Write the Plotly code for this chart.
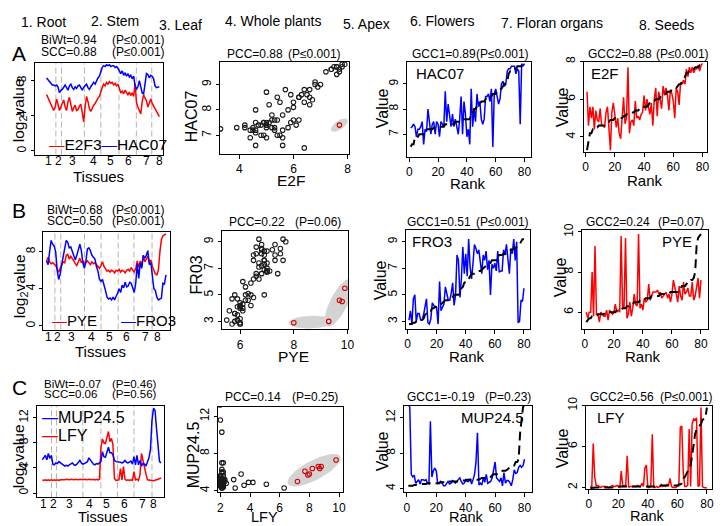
import numpy as np
import plotly.graph_objects as go

W, H = 722, 526
OFF = 8  # page body margin of the html page (content is drawn 8 px in)
FONT = "Liberation Sans, Arial, sans-serif"
BLUE = "#0000FF"
RED = "#FF0000"

# ---------------- data (80 samples, tissue order) ----------------
E2F3 = [6.4, 6.0, 5.6, 5.2, 4.9, 4.6, 5.0, 5.9, 5.3, 4.6,
        5.0, 5.4, 5.8, 5.0, 4.6, 5.6, 6.1, 5.3, 4.5, 4.9,
        5.2, 4.6, 4.7, 5.1, 5.3, 4.4, 3.3, 5.0, 6.2, 5.6,
        4.8, 4.5, 4.9, 5.2, 5.4, 5.8, 6.0, 6.2, 6.8, 7.2,
        7.6, 7.4, 7.8, 7.6, 7.9, 7.7, 7.8, 7.5, 7.7, 7.4,
        7.6, 7.0, 6.6, 6.8, 6.5, 6.9, 6.6, 6.4, 6.7, 6.3,
        6.6, 6.2, 7.7, 5.5, 5.0, 4.6, 4.2, 5.6, 6.4, 6.0,
        5.7, 5.0, 5.5, 5.9, 5.4, 5.1, 4.8, 4.4, 4.2, 3.9]
HAC07 = [8.3, 8.1, 7.8, 7.6, 7.5, 7.5, 7.4, 7.5, 7.3, 6.6,
         6.9, 7.0, 7.3, 7.5, 7.2, 6.9, 7.4, 7.6, 7.2, 7.0,
         7.3, 7.1, 7.4, 7.5, 7.2, 6.9, 7.25, 7.4, 7.6, 7.2,
         7.0, 7.3, 7.5, 7.8, 7.6, 8.0, 8.3, 8.5, 9.0, 9.5,
         9.7, 9.6, 9.8, 9.7, 9.8, 9.6, 9.7, 9.7, 9.5, 9.6,
         9.4, 9.0, 8.8, 9.1, 8.6, 8.9, 8.5, 8.8, 8.4, 8.6,
         8.2, 8.5, 7.4, 7.0, 7.3, 8.0, 7.4, 6.6, 6.5, 7.6,
         8.8, 8.7, 8.3, 8.6, 8.5, 8.2, 7.4, 7.2, 7.3, 7.3]
PYE = [7.0, 7.4, 6.9, 6.7, 6.8, 6.6, 6.5, 6.1, 5.8, 6.2,
       6.6, 6.9, 6.8, 7.6, 7.7, 7.2, 7.5, 7.3, 7.0, 6.7,
       6.5, 6.9, 7.3, 6.8, 7.0, 6.7, 6.9, 7.0, 6.8, 6.6,
       6.9, 6.7, 6.8, 6.6, 6.4, 6.2, 6.5, 6.9, 6.4, 6.1,
       5.9, 6.0, 5.8, 6.0, 5.9, 5.7, 6.0, 5.9, 6.1, 5.8,
       6.0, 5.9, 5.7, 6.0, 6.1, 5.9, 6.3, 6.0, 5.8, 6.2,
       7.0, 6.3, 7.0, 6.5, 7.6, 6.9, 7.3, 7.5, 6.8, 7.1,
       6.4, 6.0, 5.6, 5.5, 6.0, 8.0, 9.3, 9.7, 9.8, 9.9]
FRO3 = [7.0, 6.6, 8.0, 9.2, 8.8, 8.6, 8.0, 6.0, 5.0, 5.6,
        6.6, 7.6, 8.5, 9.2, 9.0, 8.4, 8.5, 8.0, 7.4, 7.1,
        7.6, 8.3, 8.8, 8.1, 6.8, 6.2, 6.9, 8.3, 8.4, 8.1,
        7.6, 7.4, 7.2, 6.4, 5.9, 5.0, 4.8, 5.0, 4.2, 3.8,
        3.1, 2.9, 3.0, 2.8, 3.1, 2.8, 3.2, 3.5, 4.0, 3.6,
        4.4, 4.1, 4.7, 4.2, 4.3, 4.7, 4.6, 4.1, 3.6, 4.6,
        6.7, 5.1, 6.8, 6.2, 7.6, 7.3, 7.6, 8.1, 6.6, 6.8,
        5.0, 4.0, 3.8, 3.1, 2.8, 2.9, 3.0, 4.6, 4.5, 5.5]
LFY = [2.1, 2.0, 2.1, 2.0, 2.1, 2.0, 2.1, 2.0, 2.1, 2.0,
       2.1, 2.0, 2.1, 2.1, 2.0, 2.1, 2.2, 2.1, 2.1, 2.2,
       2.1, 2.1, 2.2, 2.1, 2.1, 2.2, 2.1, 2.1, 2.2, 2.1,
       2.1, 2.2, 2.1, 2.1, 2.2, 2.1, 2.2, 2.1, 2.2, 7.2,
       8.6, 8.0, 7.9, 8.8, 9.8, 8.2, 8.7, 7.7, 2.3, 2.0,
       2.0, 2.1, 3.9, 2.1, 4.2, 2.2, 2.0, 2.1, 2.0, 2.1,
       2.0, 3.4, 2.1, 2.2, 2.0, 2.9, 6.3, 5.1, 3.6, 3.0,
       2.1, 2.1, 2.1, 2.0, 1.95, 1.98, 2.1, 2.2, 2.3, 2.4]
MUP245 = [5.3, 5.6, 6.0, 5.3, 6.3, 5.5, 6.0, 4.6, 4.5, 4.8,
          4.7, 5.0, 4.8, 4.6, 4.5, 4.3, 4.4, 4.3, 4.5, 4.6,
          4.8, 4.5, 4.4, 4.6, 4.9, 5.2, 4.8, 4.6, 4.7, 4.8,
          5.0, 5.6, 5.2, 4.8, 4.6, 4.5, 4.7, 4.6, 4.8, 5.0,
          6.6, 5.8, 5.7, 6.6, 7.3, 6.4, 6.4, 6.1, 5.2, 5.0,
          5.0, 5.0, 4.9, 4.8, 4.9, 5.2, 4.9, 4.8, 5.0, 5.1,
          4.6, 5.8, 4.5, 6.0, 4.5, 5.2, 4.3, 4.7, 4.6, 4.3,
          5.0, 5.6, 7.0, 11.6, 13.5, 13.2, 10.3, 7.0, 5.0, 4.8]

# highlighted (outlier) samples, 0-based, grouped per grey ellipse
A_HL = [[62]]
B_HL = [[75, 76], [76, 77, 78, 79]]
C_HL = [[39, 40, 41, 42, 43, 44, 45, 46, 47]]

TISSUES = ["1", "2", "3", "4", "5", "6", "7", "8"]
HEADER = ["1. Root", "2. Stem", "3. Leaf", "4. Whole plants", "5. Apex",
          "6. Flowers", "7. Floran organs", "8. Seeds"]
A_TISSUE_POS = [2.2, 9.5, 19, 33.8, 46, 58.3, 71, 79.8]
A_BOUNDS = [7.5, 11.4, 27.5, 39, 51.7, 63.9, 74.7]
B_TISSUE_POS = [2.1, 8.2, 17.4, 30.9, 42.5, 54, 66.5, 74.1]
B_BOUNDS = [6.5, 10.4, 26.1, 37, 48.4, 58.8, 70.8]
C_TISSUE_POS = [2.1, 8.7, 19.2, 32.4, 43.4, 55.9, 67.5, 75.2]
C_BOUNDS = [7.1, 10.4, 28, 40, 51, 62, 74]

RANK_TICKS = [0, 20, 40, 60, 80]

A_STATS = [("BiWt=0.94", "(P≤0.001)"), ("SCC=0.88", "(P≤0.001)"),
           ("PCC=0.88", "(P≤0.001)"), ("GCC1=0.89", "(P≤0.001)"), ("GCC2=0.88", "(P≤0.001)")]
B_STATS = [("BiWt=0.68", "(P≤0.001)"), ("SCC=0.50", "(P≤0.001)"),
           ("PCC=0.22", "(P=0.06)"), ("GCC1=0.51", "(P≤0.001)"), ("GCC2=0.24", "(P=0.07)")]
C_STATS = [("BiWt=-0.07", "(P=0.46)"), ("SCC=0.06", "(P=0.56)"),
           ("PCC=0.14", "(P=0.25)"), ("GCC1=-0.19", "(P=0.23)"), ("GCC2=0.56", "(P≤0.001)")]

# ---------------- helpers ----------------
def PX(x):
    return (x - OFF) / W


def PY(y):
    return 1 - (y - OFF) / H


def lin_range(lo_px, hi_px, pa, va, pb, vb):
    k = (vb - va) / (pb - pa)
    return [va + (lo_px - pa) * k, va + (hi_px - pa) * k]

fig = go.Figure()
layout = {}
shapes = []
annotations = []


def ann(text, x, y, size=12, xanchor="left", angle=0, color="black"):
    annotations.append(dict(text=text, x=max(PX(x), 0), y=PY(y), xref="paper", yref="paper",
                            showarrow=False, xanchor=xanchor, yanchor="middle",
                            textangle=angle,
                            font=dict(size=size, family=FONT, color=color)))


PANELS = {}


def make_axes(n, box, xmap, ymap, xticks, yticks, xticktext=None, xtickmarks=True):
    l, r, t, b = box
    xr = lin_range(l, r, *xmap)
    yr = lin_range(b, t, *ymap)
    sfx = "" if n == 1 else str(n)
    common = dict(showline=True, linecolor="black", linewidth=1, mirror=True,
                  showgrid=False, zeroline=False, ticks="outside", ticklen=4,
                  tickcolor="black", tickwidth=1,
                  tickfont=dict(size=12, family=FONT, color="black"))
    xa = dict(common, domain=[PX(l), PX(r)], anchor="y" + sfx, range=xr,
              tickmode="array", tickvals=xticks)
    if xticktext is not None:
        xa["ticktext"] = xticktext
    if not xtickmarks:
        xa["ticks"] = ""
    ya = dict(common, domain=[PY(b), PY(t)], anchor="x" + sfx, range=yr,
              tickmode="array", tickvals=yticks, tickangle=-90, ticklen=3)
    layout["xaxis" + sfx] = xa
    layout["yaxis" + sfx] = ya
    PANELS[n] = dict(box=box, xr=xr, yr=yr, xa="x" + sfx, ya="y" + sfx)


def tissue_axis(n, box, xmap, ymap, positions, bounds, label_y):
    """Line-plot axes: tissue labels placed at their x positions just under the box."""
    make_axes(n, box, xmap, ymap, [], [0, 4, 8, 12] if n == 9 else [0, 4, 8])
    p = PANELS[n]
    layout["xaxis" + ("" if n == 1 else str(n))].update(ticks="", showticklabels=False)
    for pos, lab in zip(positions, TISSUES):
        annotations.append(dict(text=lab, x=pos, xref=p["xa"], y=PY(label_y), yref="paper",
                                showarrow=False, xanchor="center", yanchor="middle",
                                font=dict(size=12, family=FONT, color="black")))
    for bx in bounds:
        shapes.append(dict(type="line", xref=p["xa"], yref=p["ya"] + " domain",
                           x0=bx, x1=bx, y0=0, y1=1, layer="below",
                           line=dict(color="#B4B4B4", width=1, dash="6px,3px")))


def line(n, x, y, color, width=1.5, dash=None):
    p = PANELS[n]
    fig.add_trace(go.Scatter(x=x, y=y, mode="lines", xaxis=p["xa"], yaxis=p["ya"],
                             line=dict(color=color, width=width, dash=dash),
                             hoverinfo="skip"))


def ellipse(n, xs, ys, idxs):
    p = PANELS[n]
    l, r, t, b = p["box"]
    xr, yr = p["xr"], p["yr"]
    xv = np.array([xs[i] for i in idxs], float)
    yv = np.array([ys[i] for i in idxs], float)
    px = l + (xv - xr[0]) / (xr[1] - xr[0]) * (r - l)
    py = b - (yv - yr[0]) / (yr[1] - yr[0]) * (b - t)
    cx, cy = px.mean(), py.mean()
    if len(idxs) == 1:
        ang = np.radians(35)
        u = np.array([np.cos(ang), -np.sin(ang)])
        a, bm = 10.0, 4.5
    else:
        pts = np.vstack([px - cx, py - cy])
        cov = pts @ pts.T
        w, v = np.linalg.eigh(cov)
        u = v[:, np.argmax(w)]
        proj = u @ pts
        perp = np.array([-u[1], u[0]]) @ pts
        a = np.abs(proj).max() + 5.5
        bm = np.abs(perp).max() + 6.5
    vv = np.array([-u[1], u[0]])
    th = np.linspace(0, 2 * np.pi, 80)
    ex = cx + a * np.cos(th) * u[0] + bm * np.sin(th) * vv[0]
    ey = cy + a * np.cos(th) * u[1] + bm * np.sin(th) * vv[1]
    dx = xr[0] + (ex - l) / (r - l) * (xr[1] - xr[0])
    dy = yr[0] + (b - ey) / (b - t) * (yr[1] - yr[0])
    fig.add_trace(go.Scatter(x=dx, y=dy, mode="lines", fill="toself",
                             fillcolor="#D3D3D3", line=dict(width=0, color="#D3D3D3"),
                             xaxis=p["xa"], yaxis=p["ya"], hoverinfo="skip"))


def scatter_panel(n, xs, ys, groups):
    p = PANELS[n]
    hl = sorted(set(i for g in groups for i in g))
    for g in groups:
        ellipse(n, xs, ys, g)
    normal = [i for i in range(len(xs)) if i not in hl]
    fig.add_trace(go.Scatter(x=[xs[i] for i in normal], y=[ys[i] for i in normal],
                             mode="markers", xaxis=p["xa"], yaxis=p["ya"],
                             marker=dict(symbol="circle-open", size=4.5, color="#1a1a1a",
                                         line=dict(width=1.1)), hoverinfo="skip"))
    fig.add_trace(go.Scatter(x=[xs[i] for i in hl], y=[ys[i] for i in hl],
                             mode="markers", xaxis=p["xa"], yaxis=p["ya"],
                             marker=dict(symbol="circle-open", size=4.5, color="#D00000",
                                         line=dict(width=1.1)), hoverinfo="skip"))


def rank_panel(n, order_gene, value_gene, color):
    order = np.argsort(np.array(order_gene), kind="stable")
    vals = np.array(value_gene)[order]
    ranks = np.arange(1, len(vals) + 1)
    line(n, ranks, vals, color, 1.5)
    line(n, ranks, np.sort(np.array(value_gene)), "black", 2, "9px,5px")


idx = np.arange(1, 81)

# ---------------- Row A ----------------
tissue_axis(1, (33, 163, 55, 148), (45, 1, 159, 80), (144.3, 0, 72.7, 8),
            A_TISSUE_POS, A_BOUNDS, 155)
line(1, idx, E2F3, RED)
line(1, idx, HAC07, BLUE)

make_axes(2, (220, 351, 53.3, 147.3), (240, 4, 349.3, 8), (128.3, 7, 76.7, 9),
          [4, 6, 8], [7, 8, 9])
scatter_panel(2, E2F3, HAC07, A_HL)

make_axes(3, (409, 535, 53.3, 150), (411.7, 0, 528.3, 80), (127.3, 7, 76, 9),
          RANK_TICKS, [7, 8, 9])
rank_panel(3, E2F3, HAC07, BLUE)

make_axes(4, (588.3, 713.3, 53.3, 145), (590, 0, 708.3, 80), (130, 4, 53.3, 8.0),
          RANK_TICKS, [4, 6, 8])
rank_panel(4, HAC07, E2F3, RED)

# ---------------- Row B ----------------
tissue_axis(5, (41.7, 170, 226.7, 326), (45, 1, 165.7, 80), (322.3, 0, 246.7, 8),
            B_TISSUE_POS, B_BOUNDS, 333.5)
line(5, idx, PYE, RED)
line(5, idx, FRO3, BLUE)

make_axes(6, (222.3, 350, 225.7, 325.7), (240.7, 6, 349.3, 10), (317.7, 3, 236.7, 9),
          [6, 8, 10], [3, 5, 7, 9])
scatter_panel(6, PYE, FRO3, B_HL)

make_axes(7, (408.3, 534, 224.3, 325), (410, 0, 527.7, 80), (317.7, 3, 236.7, 9),
          RANK_TICKS, [3, 5, 7, 9])
rank_panel(7, PYE, FRO3, BLUE)

make_axes(8, (586.7, 714, 225, 325), (589.3, 0, 706.7, 80), (308.3, 6, 226.7, 10),
          RANK_TICKS, [6, 8, 10])
rank_panel(8, FRO3, PYE, RED)

# ---------------- Row C ----------------
tissue_axis(9, (35, 163.3, 403.3, 496.7), (40.7, 1, 160.7, 80), (492.3, 0, 415.7, 12),
            C_TISSUE_POS, C_BOUNDS, 503)
line(9, idx, LFY, RED)
line(9, idx, MUP245, BLUE)

make_axes(10, (218.3, 345, 405, 491.7), (220.7, 2, 340.7, 10), (490, 4, 414.3, 12),
          [2, 4, 6, 8, 10], [4, 8, 12])
scatter_panel(10, LFY, MUP245, C_HL)

make_axes(11, (406.7, 535.7, 403.3, 491.7), (409.3, 0, 528.3, 80), (487.7, 4, 415.7, 12),
          RANK_TICKS, [4, 8, 12])
rank_panel(11, LFY, MUP245, BLUE)

make_axes(12, (590, 718, 403.3, 488.3), (593.3, 0, 712.7, 80), (486.7, 2, 403.3, 10),
          RANK_TICKS, [2, 6, 10])
rank_panel(12, MUP245, LFY, RED)

# ---------------- text ----------------
for txt, x, y in zip(HEADER, [42, 114, 180, 274, 368, 445, 556, 672],
                     [13, 12, 16, 12, 15, 12, 14, 16]):
    ann(txt, x, y, size=14, xanchor="center")

ann("A", 8, 45, size=21)
ann("B", 8, 205, size=21)
ann("C", 8, 385, size=21)

for stats, xl, xr_, y1, y2, fs in [(A_STATS, 37, 167, 31.7, 43.3, 12),
                                   (B_STATS, 43, 167, 204, 215.5, 12),
                                   (C_STATS, 40, 159, 381, 392, 11.5)]:
    ann(stats[0][0], xl, y1, size=fs)
    ann(stats[0][1], xr_, y1, size=fs, xanchor="right")
    ann(stats[1][0], xl, y2, size=fs)
    ann(stats[1][1], xr_, y2, size=fs, xanchor="right")

for stats, y, pos in [(A_STATS, 46, [(225, 345), (412, 535), (590, 717)]),
                      (B_STATS, 216.7, [(227, 345), (407, 535), (588, 712)]),
                      (C_STATS, 395, [(223, 342), (407, 537), (592, 721)])]:
    for k, (xl, xr_) in enumerate(pos):
        ann(stats[k + 2][0], xl, y)
        ann(stats[k + 2][1], xr_, y, xanchor="right")

red_dash = "<span style='color:#FF0000'>—</span>"
blue_dash = "<span style='color:#0000FF'>—</span>"
ann(red_dash + "E2F3" + blue_dash + "HAC07", 45, 138, size=15.5)
ann(red_dash + "PYE", 48, 316.7, size=15)
ann(blue_dash + "FRO3", 118, 316.7, size=15)
ann(blue_dash + "MUP24.5", 38, 415, size=16)
ann(red_dash + "LFY", 38, 433.3, size=16)

ann("HAC07", 417, 65, size=15)
ann("E2F", 593, 65, size=15)
ann("FRO3", 412, 236.7, size=15)
ann("PYE", 665, 236.7, size=15)
ann("MUP24.5", 461.7, 415, size=15)
ann("LFY", 600, 415, size=15)

LOG2 = "log<sub>2</sub>value"
ann(LOG2, 17, 103, size=15.5, xanchor="center", angle=-90)
ann("Tissues", 97, 170, size=15, xanchor="center")
ann("HAC07", 191, 109, size=16, xanchor="center", angle=-90)
ann("E2F", 292, 174, size=15.5, xanchor="center")
ann("Value", 385, 101, size=16, xanchor="center", angle=-90)
ann("Rank", 471, 177, size=15, xanchor="center")
ann("Value", 567, 100, size=16, xanchor="center", angle=-90)
ann("Rank", 650, 174, size=15, xanchor="center")

ann(LOG2, 18, 282, size=15.5, xanchor="center", angle=-90)
ann("Tissues", 100, 348, size=15, xanchor="center")
ann("FR03", 197, 270, size=16, xanchor="center", angle=-90)
ann("PYE", 295, 353, size=15.5, xanchor="center")
ann("Value", 383, 276, size=16, xanchor="center", angle=-90)
ann("Rank", 470, 353, size=15, xanchor="center")
ann("Value", 565, 273, size=16, xanchor="center", angle=-90)
ann("Rank", 648, 353, size=15, xanchor="center")

ann(LOG2, 17, 455, size=15.5, xanchor="center", angle=-90)
ann("Tissues", 102, 517, size=14.5, xanchor="center")
ann("MUP24.5", 193, 453, size=16, xanchor="center", angle=-90)
ann("LFY", 265, 517, size=14.5, xanchor="center")
ann("Value", 385, 450, size=16, xanchor="center", angle=-90)
ann("Rank", 470, 517, size=14.5, xanchor="center")
ann("Value", 567, 447, size=16, xanchor="center", angle=-90)
ann("Rank", 653, 516, size=14.5, xanchor="center")

fig.update_layout(**layout)
fig.update_layout(width=W, height=H, autosize=False,
                  margin=dict(l=0, r=0, t=0, b=0), showlegend=False,
                  plot_bgcolor="white", paper_bgcolor="white",
                  shapes=shapes, annotations=annotations,
                  font=dict(family=FONT, color="black"))
fig.write_html("out.html")
